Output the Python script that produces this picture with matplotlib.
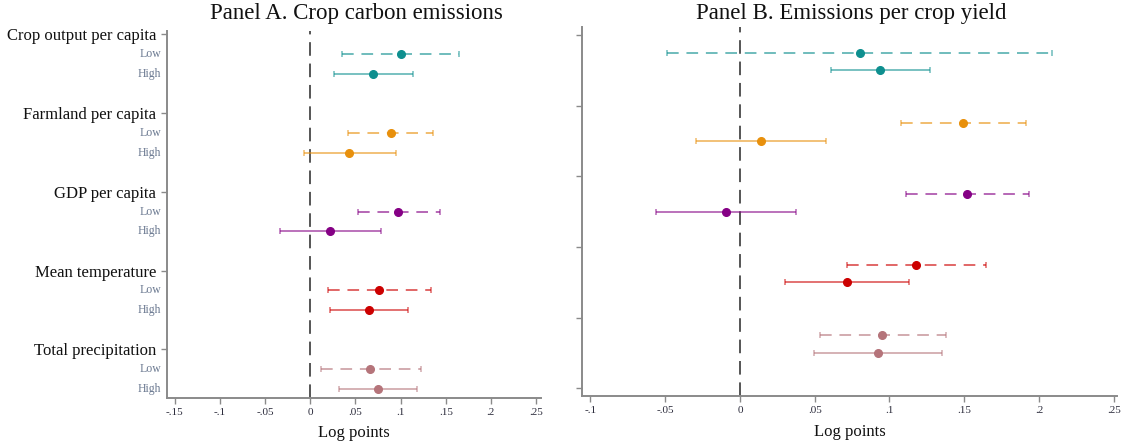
import matplotlib
matplotlib.use("Agg")
import matplotlib.pyplot as plt
import numpy as np

plt.rcParams['font.family'] = ['Liberation Serif', 'DejaVu Serif']

categories = ["Crop output per capita", "Farmland per capita", "GDP per capita",
              "Mean temperature", "Total precipitation"]
colors = ["#0e8f8f", "#e8900c", "#850085", "#cc0000", "#b5747a"]

# Panel A: (point, lower, upper)
a_low_pt = [0.100, 0.089, 0.0975, 0.076, 0.0665]
a_low_lo = [0.035, 0.042, 0.0525, 0.020, 0.0115]
a_low_hi = [0.165, 0.1355, 0.1433, 0.134, 0.1222]
a_high_pt = [0.070, 0.0432, 0.0222, 0.065, 0.0746]
a_high_lo = [0.026, -0.0066, -0.0336, 0.0222, 0.0314]
a_high_hi = [0.1137, 0.0945, 0.078, 0.1078, 0.1185]

# Panel B
b_low_pt = [0.080, 0.149, 0.152, 0.118, 0.095]
b_low_lo = [-0.0485, 0.1078, 0.1108, 0.0714, 0.0532]
b_low_hi = [0.2085, 0.1912, 0.1931, 0.1647, 0.1378]
b_high_pt = [0.094, 0.0142, -0.0095, 0.0716, 0.0922]
b_high_lo = [0.0607, -0.0291, -0.0565, 0.0303, 0.0494]
b_high_hi = [0.1274, 0.0577, 0.0376, 0.113, 0.1354]

a_ticks = [-0.15, -0.1, -0.05, 0, 0.05, 0.1, 0.15, 0.2, 0.25]
a_ticklabels = ["-.15", "-.1", "-.05", "0", ".05", ".1", ".15", ".2", ".25"]
b_ticks = [-0.1, -0.05, 0, 0.05, 0.1, 0.15, 0.2, 0.25]
b_ticklabels = ["-.1", "-.05", "0", ".05", ".1", ".15", ".2", ".25"]

fig = plt.figure(figsize=(11.21, 4.43), dpi=100)
W, H = 1121, 443

def axes_px(l, t, r, b):
    return fig.add_axes([l / W, 1 - b / H, (r - l) / W, (b - t) / H])

axA = axes_px(166.7, 31, 541, 397.7)
axB = axes_px(582.4, 27, 1117, 396)

spine_col = "#8a8a8a"
tick_col = "#2b2b3b"

def draw(ax, lp, ll, lh, hp, hl, hh):
    for i, c in enumerate(colors):
        base = 4 * i
        # Low (dashed)
        y = base + 1
        eb = ax.errorbar([lp[i]], [y], xerr=[[lp[i] - ll[i]], [lh[i] - lp[i]]],
                         fmt='none', ecolor=c, alpha=0.6, elinewidth=1.4,
                         capsize=2.2, capthick=1.1)
        eb[-1][0].set_linestyle((0, (6, 4)))
        ax.plot([lp[i]], [y], 'o', color=c, markersize=5.5, zorder=5)
        # High (solid)
        y = base + 2
        ax.errorbar([hp[i]], [y], xerr=[[hp[i] - hl[i]], [hh[i] - hp[i]]],
                    fmt='none', ecolor=c, alpha=0.6, elinewidth=1.3,
                    capsize=2.2, capthick=1.1)
        ax.plot([hp[i]], [y], 'o', color=c, markersize=5.5, zorder=5)
    ax.axvline(0, color="#555555", lw=1.4, dashes=(7, 4), zorder=1)
    for s in ["top", "right"]:
        ax.spines[s].set_visible(False)
    for s in ["left", "bottom"]:
        ax.spines[s].set_color(spine_col)
        ax.spines[s].set_linewidth(1.4)
    ax.tick_params(axis='both', colors=spine_col, labelcolor=tick_col, length=4, width=1)
    ax.set_xlabel("Log points", fontsize=12, color="#111111", labelpad=6)

draw(axA, a_low_pt, a_low_lo, a_low_hi, a_high_pt, a_high_lo, a_high_hi)
draw(axB, b_low_pt, b_low_lo, b_low_hi, b_high_pt, b_high_lo, b_high_hi)

axA.set_xlim(-0.159, 0.2555)
axA.set_ylim(18.45, -0.17)
axA.set_xticks(a_ticks)
axA.set_xticklabels(a_ticklabels, fontsize=8)
axA.set_yticks([4 * i for i in range(len(categories))])
axA.set_yticklabels(categories, fontsize=12, color="#111111")
for i in range(len(categories)):
    for k, lab in ((1, "Low"), (2, "High")):
        axA.annotate(lab, xy=(0, 4 * i + k), xycoords=('axes fraction', 'data'),
                     xytext=(-4, 0), textcoords='offset points', ha='right', va='center',
                     fontsize=8.5, color="#6a7890")

axB.set_xlim(-0.1054, 0.2522)
axB.set_ylim(20.44, -0.45)
axB.set_xticks(b_ticks)
axB.set_xticklabels(b_ticklabels, fontsize=8)
axB.set_yticks([0, 4, 8, 12, 16, 20])
axB.set_yticklabels([])

fig.text(356 / W, 1 - 14 / H, "Panel A. Crop carbon emissions", ha='center', va='center',
         fontsize=16.5, color="#111111")
fig.text(851 / W, 1 - 14 / H, "Panel B. Emissions per crop yield", ha='center', va='center',
         fontsize=16.5, color="#111111")

fig.savefig("out.png", dpi=100)
